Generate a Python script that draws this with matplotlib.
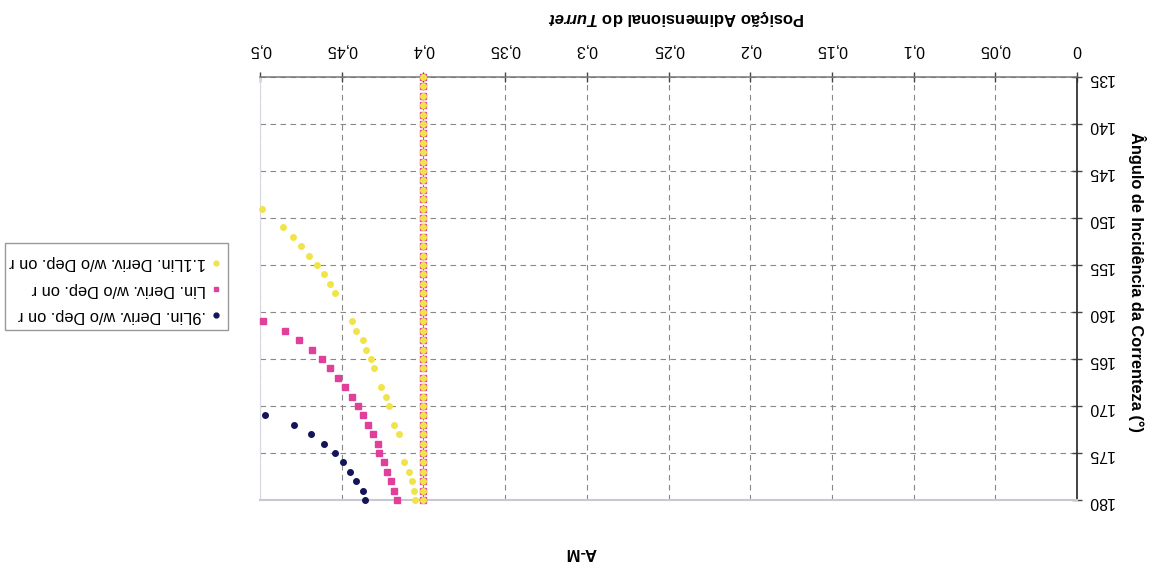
import numpy as np
import matplotlib.pyplot as plt
from matplotlib.lines import Line2D
from matplotlib.patches import Rectangle

plt.rcParams['font.family'] = ['Liberation Sans', 'DejaVu Sans']
plt.rcParams['mathtext.fontset'] = 'custom'
plt.rcParams['mathtext.bfit'] = 'Liberation Sans:bold:italic'

# -----------------------------
# Data (position vs current incidence angle)
# -----------------------------
col_angles = list(range(135, 181))
col_pos = [0.4] * len(col_angles)

angle_09 = [171, 172, 173, 174, 175, 176, 177, 178, 179, 180]
pos_09 = [0.497, 0.479, 0.469, 0.461, 0.454, 0.449, 0.445, 0.441, 0.437, 0.436]

angle_10 = [161, 162, 163, 164, 165, 166, 167, 168, 169, 170,
            171, 172, 173, 174, 175, 176, 177, 178, 179, 180]
pos_10 = [0.498, 0.485, 0.476, 0.468, 0.462, 0.457, 0.452, 0.448, 0.444, 0.440,
          0.437, 0.434, 0.431, 0.428, 0.427, 0.424, 0.422, 0.420, 0.418, 0.416]

angle_11 = [149, 151, 152, 153, 154, 155, 156, 157, 158, 161, 162, 163, 164,
            165, 166, 168, 169, 170, 172, 173, 176, 177, 178, 179, 180]
pos_11 = [0.499, 0.486, 0.480, 0.475, 0.470, 0.465, 0.461, 0.457, 0.454, 0.444,
          0.441, 0.437, 0.435, 0.432, 0.430, 0.426, 0.423, 0.421, 0.418, 0.415,
          0.412, 0.409, 0.407, 0.406, 0.405]

x_ticks = [0, 0.05, 0.1, 0.15, 0.2, 0.25, 0.3, 0.35, 0.4, 0.45, 0.5]
x_tick_labels = ["0", "0,05", "0,1", "0,15", "0,2", "0,25", "0,3", "0,35", "0,4", "0,45", "0,5"]
y_ticks = [135, 140, 145, 150, 155, 160, 165, 170, 175, 180]

series_labels = [".9Lin. Deriv. w/o Dep. on r",
                 "Lin. Deriv. w/o Dep. on r",
                 "1.1Lin. Deriv. w/o Dep. on r"]
colors = ["#14145a", "#e0409a", "#f0e44a"]
markers = ["o", "s", "o"]

# -----------------------------
# Figure (drawn turned upside down)
# -----------------------------
fig = plt.figure(figsize=(11.54, 5.68), dpi=100)
ax = fig.add_axes([0.2253, 0.1197, 0.9333 - 0.2253, 0.8644 - 0.1197])

all_x = [pos_09, pos_10, pos_11]
all_y = [angle_09, angle_10, angle_11]
for i in range(3):
    ax.plot(col_pos, col_angles, linestyle="none", marker=markers[i], ms=4,
            color=colors[i], mec=colors[i], zorder=3 + i, clip_on=False)
    ax.plot(all_x[i], all_y[i], linestyle="none", marker=markers[i], ms=4,
            color=colors[i], mec=colors[i], zorder=3 + i, clip_on=False)

ax.set_xlim(0.5, 0)
ax.set_ylim(180, 135)

ax.xaxis.tick_top()
ax.yaxis.tick_right()
ax.set_xticks(x_ticks)
ax.set_xticklabels(x_tick_labels, rotation=180, fontsize=11.5)
ax.set_yticks(y_ticks)
ax.set_yticklabels([str(v) for v in y_ticks], rotation=180, fontsize=11.5)
ax.tick_params(axis="both", direction="inout", length=7, width=1, colors="#444", labelcolor="black")
ax.tick_params(axis="x", pad=11)
ax.tick_params(axis="y", pad=4)

ax.grid(True, linestyle=(0, (5, 4)), color="#888", linewidth=0.8)
ax.set_axisbelow(True)

ax.spines["right"].set_color("#333")
ax.spines["right"].set_linewidth(1.3)
ax.spines["top"].set_color("#777")
ax.spines["top"].set_linewidth(1.1)
ax.spines["left"].set_color("#d8d8e4")
ax.spines["bottom"].set_color("#c8c8d4")
ax.spines["bottom"].set_linewidth(1.5)

# axis titles and chart title
fig.text(676 / 1154, 1 - 18 / 568, r"Posição Adimensional do $\mathbfit{Turret}$",
         rotation=180, ha="center", va="center", fontsize=12, fontweight="bold")
fig.text(1137 / 1154, 1 - 282 / 568, "Ângulo de Incidência da Correnteza (°)",
         rotation=270, ha="center", va="center", fontsize=11.8, fontweight="bold")
fig.text(581 / 1154, 1 - 553 / 568, "A-M", rotation=180, ha="center", va="center",
         fontsize=12, fontweight="bold")

# -----------------------------
# Legend (built by hand so the text can be turned)
# -----------------------------
fig.patches.append(Rectangle((0.0043, 0.419), 0.1933, 0.153, transform=fig.transFigure,
                             facecolor="white", edgecolor="#999", linewidth=1))
rows = [0.4454, 0.491, 0.537]
for i in range(3):
    fig.lines.append(Line2D([0.1872], [rows[i]], transform=fig.transFigure,
                            linestyle="none", marker=markers[i], ms=3.5,
                            color=colors[i], mec=colors[i]))
    fig.text(0.1785, rows[i], series_labels[i], rotation=180, ha="right", va="center",
             fontsize=11.8)

plt.savefig("out.png", dpi=100)
plt.close()
